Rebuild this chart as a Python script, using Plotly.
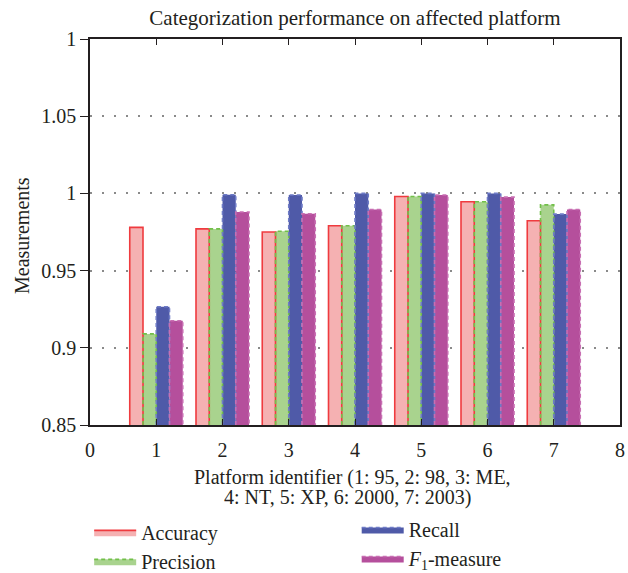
import plotly.graph_objects as go

# Platform identifiers and the four measurements per platform
platforms = [1, 2, 3, 4, 5, 6, 7]
accuracy = [0.978, 0.977, 0.975, 0.979, 0.998, 0.9946, 0.9823]
precision = [0.909, 0.977, 0.9755, 0.979, 0.998, 0.9946, 0.9926]
recall = [0.9266, 0.9991, 0.999, 1.0, 1.0, 1.0, 0.9866]
f1_measure = [0.9175, 0.988, 0.9868, 0.9896, 0.999, 0.9976, 0.9896]

y_tick_vals = [0.85, 0.9, 0.95, 1.0, 1.05, 1.1]
y_tick_text = ["0.85", "0.9", "0.95", "1", "1.05", "1"]
x_tick_vals = [0, 1, 2, 3, 4, 5, 6, 7, 8]

SERIF = "Liberation Serif"
INK = "#231f20"
BASE = 0.85
BAR_W = 0.2

# name, values, fill, outline, outline dash, legend, slot within group
series = [
    ("Accuracy", accuracy, "#f5b1b2", "#ef3b3f", "solid", "legend", 0),
    ("Precision", precision, "#a9d38e", "#72c04a", "4px,3px", "legend", 1),
    ("Recall", recall, "#4f5aa8", "#6e7bc6", "4px,3px", "legend2", 2),
    ("<i>F</i><sub>1</sub>-measure", f1_measure, "#b54f9c", "#c86eb2", "4px,3px", "legend2", 3),
]

fig = go.Figure()
for name, vals, fill, edge, dash, leg, slot in series:
    offset = -0.4 + slot * BAR_W
    # filled bar bodies
    fig.add_trace(go.Bar(
        x=platforms, y=[v - BASE for v in vals], base=BASE,
        width=BAR_W, offset=offset,
        marker=dict(color=fill, line=dict(width=0)),
        showlegend=False, hoverinfo="skip",
    ))
    # bar outlines traced from the same values
    ox, oy = [], []
    for p, v in zip(platforms, vals):
        x0, x1 = p + offset, p + offset + BAR_W
        ox += [x0, x0, x1, x1, None]
        oy += [BASE, v, v, BASE, None]
    fig.add_trace(go.Scatter(
        x=ox, y=oy, mode="lines",
        line=dict(color=edge, width=1.6, dash=dash),
        showlegend=False, hoverinfo="skip",
    ))
    # legend entry: filled box with the series outline
    fig.add_trace(go.Scatter(
        x=[None], y=[None], mode="lines", fill="toself",
        fillcolor=fill, line=dict(color=edge, width=1.6, dash=dash),
        name=name, legend=leg, showlegend=True,
    ))

legend_style = dict(
    orientation="v", xref="container", yref="container",
    xanchor="left", yanchor="top",
    font=dict(family=SERIF, size=20, color=INK),
    itemwidth=42, tracegroupgap=0, bgcolor="rgba(0,0,0,0)",
)

fig.update_layout(
    width=628,
    height=573,
    margin=dict(l=90, r=8, t=39, b=148, autoexpand=False),
    paper_bgcolor="white",
    plot_bgcolor="white",
    font=dict(family=SERIF, size=20, color=INK),
    title=dict(
        text="Categorization performance on affected platform",
        font=dict(family=SERIF, size=21, color=INK),
        xref="paper", x=0.5, xanchor="center",
        yref="container", y=0.969, yanchor="middle",
    ),
    showlegend=True,
    legend=dict(x=0.142, y=0.105, **legend_style),
    legend2=dict(x=0.568, y=0.11, **legend_style),
    xaxis=dict(
        range=[0, 8],
        tickvals=x_tick_vals,
        ticks="inside", ticklen=6, tickcolor=INK, tickwidth=1,
        showline=True, linecolor=INK, linewidth=1.5, mirror="ticks",
        showgrid=False, zeroline=False,
        tickfont=dict(family=SERIF, size=20, color=INK),
        ticklabelstandoff=6,
    ),
    yaxis=dict(
        range=[BASE, 1.1],
        tickvals=y_tick_vals, ticktext=y_tick_text,
        ticks="outside", ticklen=8, tickcolor=INK, tickwidth=1,
        showline=True, linecolor=INK, linewidth=1.5, mirror=True,
        showgrid=True, gridcolor="#8a8a8a", griddash="2px,10px", gridwidth=1.5,
        zeroline=False,
        tickfont=dict(family=SERIF, size=20, color=INK),
    ),
    # right-hand inward ticks
    yaxis2=dict(
        overlaying="y", side="right", range=[BASE, 1.1],
        tickvals=y_tick_vals, showticklabels=False,
        ticks="inside", ticklen=5, tickcolor=INK,
        showgrid=False, zeroline=False, showline=False,
    ),
)

# y-axis caption
fig.add_annotation(
    text="Measurements",
    xref="paper", yref="paper", x=-0.128, y=0.49,
    xanchor="center", yanchor="middle", textangle=-90, showarrow=False,
    font=dict(family=SERIF, size=20, color=INK),
)

# two-line x-axis caption
fig.add_annotation(
    text="Platform identifier (1: 95, 2: 98, 3: ME,",
    xref="paper", yref="paper", x=0.496, y=-0.135,
    xanchor="center", yanchor="middle", showarrow=False,
    font=dict(family=SERIF, size=20, color=INK),
)
fig.add_annotation(
    text="4: NT, 5: XP, 6: 2000, 7: 2003)",
    xref="paper", yref="paper", x=0.485, y=-0.189,
    xanchor="center", yanchor="middle", showarrow=False,
    font=dict(family=SERIF, size=20, color=INK),
)

fig.write_html("out.html")
